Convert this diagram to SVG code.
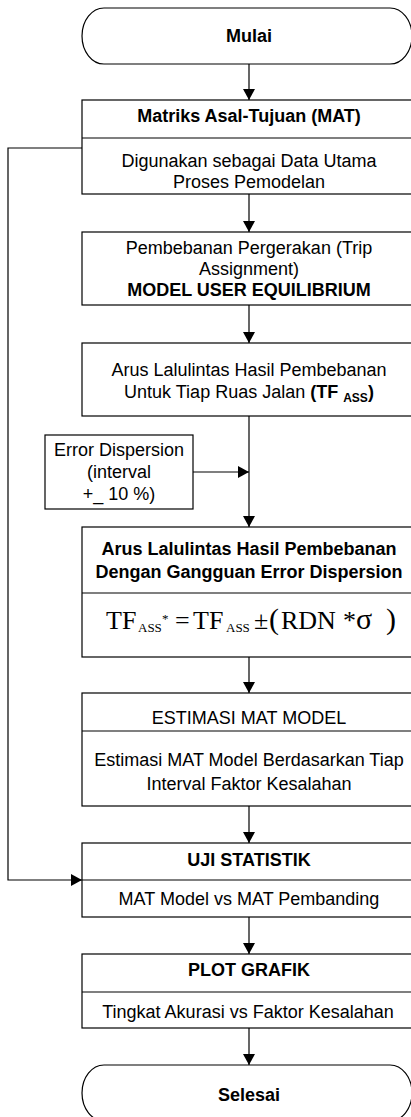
<svg xmlns="http://www.w3.org/2000/svg" width="411" height="1117" viewBox="0 0 411 1117">
<style>
.box{fill:#fff;stroke:#000;stroke-width:1.2}
.div{stroke:#000;stroke-width:1.2;fill:none}
.con{stroke:#000;stroke-width:1.2;fill:none;marker-end:url(#arr)}
text{font-family:"Liberation Sans",Arial,sans-serif;font-size:18px;fill:#000;text-anchor:middle}
.b{font-weight:bold}
text.f{font-family:"Liberation Serif","Times New Roman",serif;text-anchor:start;font-size:26px}
.sub{font-size:13px}
.par{font-size:30px}
</style>
<defs>
<marker id="arr" markerUnits="userSpaceOnUse" markerWidth="12" markerHeight="12" refX="11" refY="6" orient="auto">
<path d="M0,0 L11,6 L0,12 Z" fill="#000"/>
</marker>
</defs>
<rect width="411" height="1117" fill="#fff"/>
<g id="connectors">
<line class="con" x1="249" y1="64" x2="249" y2="100"/>
<line class="con" x1="249" y1="194" x2="249" y2="232"/>
<line class="con" x1="249" y1="305" x2="249" y2="343"/>
<line class="con" x1="249" y1="416" x2="249" y2="527"/>
<line class="con" x1="193" y1="472" x2="249" y2="472"/>
<line class="con" x1="249" y1="657" x2="249" y2="693"/>
<line class="con" x1="249" y1="806" x2="249" y2="843"/>
<line class="con" x1="249" y1="917" x2="249" y2="954"/>
<line class="con" x1="249" y1="1028" x2="249" y2="1065"/>
<polyline class="con" points="82,148 8,148 8,880 82,880"/>
</g>
<g id="mulai">
<path class="box" d="M104,8 H390 A22,28 0 0 1 390,64 H104 A22,28 0 0 1 104,8 Z"/>
<text class="b" x="249" y="42">Mulai</text>
</g>
<g id="mat">
<rect class="box" x="82" y="100" width="334" height="94"/>
<line class="div" x1="82" y1="138" x2="416" y2="138"/>
<text class="b" x="249" y="122">Matriks Asal-Tujuan (MAT)</text>
<text x="249" y="167">Digunakan sebagai Data Utama</text>
<text x="249" y="188">Proses Pemodelan</text>
</g>
<g id="assignment">
<rect class="box" x="82" y="232" width="334" height="73"/>
<text x="249" y="254">Pembebanan Pergerakan (Trip</text>
<text x="249" y="275">Assignment)</text>
<text class="b" x="249" y="296">MODEL USER EQUILIBRIUM</text>
</g>
<g id="arus">
<rect class="box" x="82" y="343" width="334" height="73"/>
<text x="249" y="376">Arus Lalulintas Hasil Pembebanan</text>
<text x="249" y="397.5">Untuk Tiap Ruas Jalan <tspan class="b">(TF </tspan><tspan class="b" style="font-size:12px" dy="4">ASS</tspan><tspan class="b" dy="-4">)</tspan></text>
</g>
<g id="error">
<rect class="box" x="45" y="435" width="148" height="74"/>
<text x="119" y="456">Error Dispersion</text>
<text x="119" y="478">(interval</text>
<text x="119" y="500">+_ 10 %)</text>
</g>
<g id="gangguan">
<rect class="box" x="82" y="527" width="334" height="130"/>
<line class="div" x1="82" y1="593" x2="416" y2="593"/>
<text class="b" x="249" y="554.5">Arus Lalulintas Hasil Pembebanan</text>
<text class="b" x="249" y="578">Dengan Gangguan Error Dispersion</text>
<text class="f" y="628.5"><tspan x="106">TF</tspan><tspan class="sub" x="138" y="631.5">ASS</tspan><tspan class="sub" x="162" y="623">*</tspan><tspan x="175" y="628.5">=</tspan><tspan x="193">TF</tspan><tspan class="sub" x="226" y="631.5">ASS</tspan><tspan x="254" y="628.5">±</tspan><tspan class="par" x="269">(</tspan><tspan x="281">RDN</tspan><tspan x="343">*</tspan><tspan class="par" x="356">σ</tspan><tspan class="par" x="386">)</tspan></text>
</g>
<g id="estimasi">
<rect class="box" x="82" y="693" width="334" height="113"/>
<line class="div" x1="82" y1="731" x2="416" y2="731"/>
<text x="249" y="724">ESTIMASI MAT MODEL</text>
<text x="249" y="766">Estimasi MAT Model Berdasarkan Tiap</text>
<text x="249" y="790">Interval Faktor Kesalahan</text>
</g>
<g id="uji">
<rect class="box" x="82" y="843" width="334" height="74"/>
<line class="div" x1="82" y1="880" x2="416" y2="880"/>
<text class="b" x="249" y="865.5">UJI STATISTIK</text>
<text x="249" y="905">MAT Model vs MAT Pembanding</text>
</g>
<g id="plot">
<rect class="box" x="82" y="954" width="334" height="74"/>
<line class="div" x1="82" y1="992" x2="416" y2="992"/>
<text class="b" x="249" y="976">PLOT GRAFIK</text>
<text x="248" y="1017.5">Tingkat Akurasi vs Faktor Kesalahan</text>
</g>
<g id="selesai">
<path class="box" d="M104,1065 H390 A22,28 0 0 1 390,1121 H104 A22,28 0 0 1 104,1065 Z"/>
<text class="b" x="249" y="1101">Selesai</text>
</g>
</svg>
